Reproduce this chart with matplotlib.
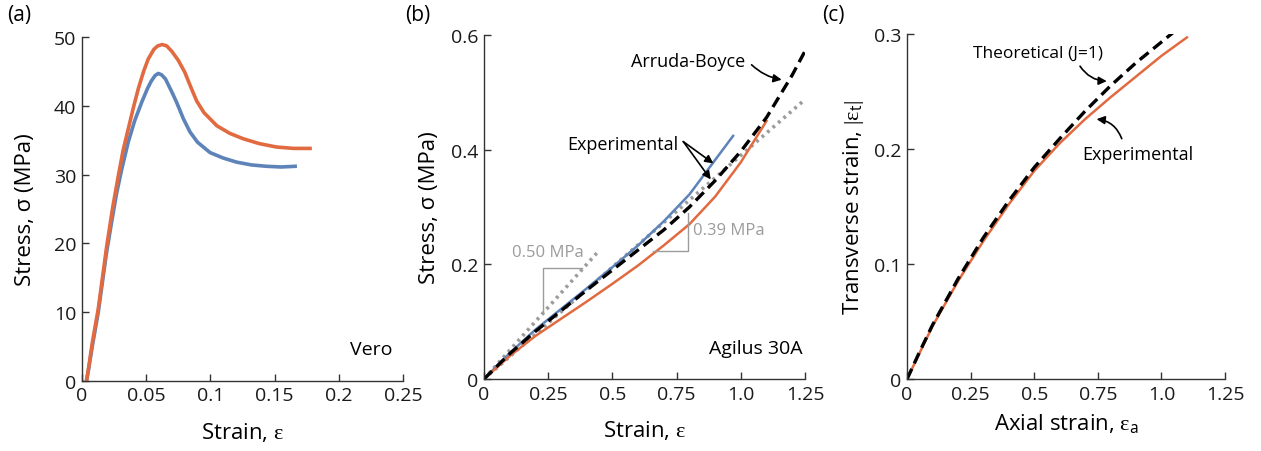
"""Stress-strain curves for Vero and Agilus 30A, and transverse vs axial strain."""

import numpy as np
import matplotlib
matplotlib.use('Agg')
import matplotlib.pyplot as plt

plt.rcParams['font.family'] = ['Open Sans', 'DejaVu Sans']
plt.rcParams['mathtext.fontset'] = 'custom'
plt.rcParams['mathtext.rm'] = 'Liberation Serif'
plt.rcParams['mathtext.it'] = 'Liberation Serif:italic'
plt.rcParams['mathtext.sf'] = 'Open Sans'

ORANGE = '#E26A40'
BLUE = '#5D83B8'
GRAY = '#9C9C9C'
AXCOL = '#333333'

# ---- (a) Vero ----
vero1_strain = [0.0035, 0.005, 0.008, 0.0127, 0.0192, 0.024, 0.0283, 0.032, 0.036, 0.040,
                0.0439, 0.048, 0.0516, 0.056, 0.059, 0.0625, 0.066, 0.070, 0.075, 0.080,
                0.085, 0.0893, 0.095, 0.105, 0.115, 0.1256, 0.138, 0.1516, 0.165, 0.1776]
vero1_stress = [0, 1.7, 5.5, 10.5, 19.5, 25.3, 29.8, 33.5, 36.6, 39.7,
                42.5, 45.0, 46.8, 48.2, 48.7, 48.9, 48.7, 47.9, 46.6, 44.9,
                42.6, 40.7, 39.0, 37.1, 36.0, 35.2, 34.5, 34.0, 33.8, 33.8]
vero2_strain = [0.0035, 0.005, 0.008, 0.0127, 0.019, 0.023, 0.027, 0.031, 0.036, 0.041,
                0.0465, 0.051, 0.054, 0.057, 0.0594, 0.062, 0.065, 0.070, 0.0737, 0.079,
                0.0841, 0.090, 0.0997, 0.110, 0.1205, 0.132, 0.1438, 0.155, 0.166]
vero2_stress = [0, 1.5, 5.0, 10.0, 18.5, 23.0, 27.3, 30.8, 34.7, 37.8,
                40.5, 42.5, 43.6, 44.4, 44.7, 44.5, 43.9, 42.0, 40.5, 38.1,
                36.2, 34.7, 33.2, 32.4, 31.8, 31.4, 31.2, 31.1, 31.2]

# ---- (b) Agilus 30A ----
ag_orange_strain = [0, 0.1, 0.2, 0.3, 0.4, 0.5, 0.6, 0.7, 0.8, 0.9, 1.0, 1.1]
ag_orange_stress = [0, 0.040, 0.075, 0.105, 0.135, 0.166, 0.198, 0.233, 0.270, 0.318, 0.378, 0.450]
ag_blue_strain = [0, 0.1, 0.2, 0.3, 0.4, 0.5, 0.6, 0.7, 0.8, 0.9, 0.97]
ag_blue_stress = [0, 0.045, 0.086, 0.122, 0.158, 0.195, 0.233, 0.275, 0.322, 0.382, 0.424]
ab_strain = [0, 0.1, 0.2, 0.3, 0.4, 0.5, 0.6, 0.7, 0.8, 0.9, 1.0, 1.1, 1.2, 1.25]
ab_stress = [0, 0.044, 0.083, 0.119, 0.155, 0.190, 0.225, 0.260, 0.300, 0.346, 0.397, 0.456, 0.530, 0.572]
fit1_strain = [0, 0.44]
fit1_stress = [0, 0.22]
fit2_strain = [0, 1.25]
fit2_stress = [0, 0.4875]

# ---- (c) Poisson effect ----
ax_strain_exp = [0, 0.05, 0.1, 0.2, 0.3, 0.4, 0.5, 0.6, 0.7, 0.8, 0.9, 1.0, 1.1]
tr_strain_exp = [0, 0.023, 0.046, 0.085, 0.120, 0.152, 0.181, 0.205, 0.226, 0.245, 0.263, 0.281, 0.297]
ax_strain_th = [0, 0.05, 0.1, 0.2, 0.3, 0.4, 0.5, 0.6, 0.7, 0.8, 0.9, 1.0, 1.05]
tr_strain_th = [0, 0.024, 0.047, 0.087, 0.123, 0.155, 0.184, 0.209, 0.233, 0.255, 0.275, 0.293, 0.302]


def style_axes(ax, xticks, xlabels, yticks, ylabels):
    for s in ['top', 'right']:
        ax.spines[s].set_visible(False)
    for s in ['left', 'bottom']:
        ax.spines[s].set_color(AXCOL)
        ax.spines[s].set_linewidth(1.0)
    ax.set_xticks(xticks)
    ax.set_xticklabels(xlabels)
    ax.set_yticks(yticks)
    ax.set_yticklabels(ylabels)
    ax.tick_params(direction='in', length=5, width=1, color=AXCOL,
                   labelsize=14, labelcolor='#1a1a1a', pad=4)


fig = plt.figure(figsize=(12.61, 4.52), dpi=100)

arrow = dict(arrowstyle='-|>', color='black', lw=1.2,
             mutation_scale=12, shrinkA=0, shrinkB=0)
EPS = r'$\mathrm{\varepsilon}$'

#----------------------------------------------------------------------
ax1 = fig.add_axes([0.065, 0.155, 0.2546, 0.761])
ax1.plot(vero2_strain, vero2_stress, color=BLUE, lw=2.6, solid_joinstyle='round')
ax1.plot(vero1_strain, vero1_stress, color=ORANGE, lw=2.6, solid_joinstyle='round')
ax1.set_xlim(0, 0.25)
ax1.set_ylim(0, 50)
style_axes(ax1, [0, 0.05, 0.1, 0.15, 0.2, 0.25], ['0', '0.05', '0.1', '0.15', '0.2', '0.25'],
           [0, 10, 20, 30, 40, 50], ['0', '10', '20', '30', '40', '50'])
ax1.set_xlabel('Strain, ' + EPS, fontsize=16, labelpad=11)
ax1.set_ylabel('Stress, σ (MPa)', fontsize=16, labelpad=13)
ax1.text(0.242, 4.6, 'Vero', fontsize=14, ha='right', va='center')

#----------------------------------------------------------------------
ax2 = fig.add_axes([0.3838, 0.1593, 0.2546, 0.7611])
ax2.plot(fit1_strain, fit1_stress, color=GRAY, lw=2.6, ls=(0, (0.8, 1.2)))
ax2.plot(fit2_strain, fit2_stress, color=GRAY, lw=2.6, ls=(0, (0.8, 1.2)))
ax2.plot(ag_blue_strain, ag_blue_stress, color=BLUE, lw=1.8)
ax2.plot(ag_orange_strain, ag_orange_stress, color=ORANGE, lw=1.8)
ax2.plot(ab_strain, ab_stress, color='black', lw=2.4, ls=(0, (3.4, 1.8)))
# slope triangles
ax2.plot([0.228, 0.228, 0.381], [0.114, 0.194, 0.194], color=GRAY, lw=1.0)
ax2.plot([0.659, 0.796, 0.796], [0.224, 0.224, 0.29], color=GRAY, lw=1.0)
ax2.text(0.247, 0.222, '0.50 MPa', fontsize=12, color=GRAY, ha='center', va='center')
ax2.text(0.954, 0.260, '0.39 MPa', fontsize=12, color=GRAY, ha='center', va='center')
ax2.set_xlim(0, 1.25)
ax2.set_ylim(0, 0.6)
style_axes(ax2, [0, 0.25, 0.5, 0.75, 1.0, 1.25], ['0', '0.25', '0.5', '0.75', '1.0', '1.25'],
           [0, 0.2, 0.4, 0.6], ['0', '0.2', '0.4', '0.6'])
ax2.set_xlabel('Strain, ' + EPS, fontsize=16, labelpad=11)
ax2.set_ylabel('Stress, σ (MPa)', fontsize=16, labelpad=8)
ax2.text(1.242, 0.054, 'Agilus 30A', fontsize=14, ha='right', va='center')
ax2.text(0.794, 0.554, 'Arruda-Boyce', fontsize=13, ha='center', va='center')
ax2.annotate('', xy=(1.159, 0.522), xytext=(1.042, 0.548),
             arrowprops=dict(arrow, connectionstyle='arc3,rad=0.15'))
ax2.text(0.541, 0.410, 'Experimental', fontsize=13, ha='center', va='center')
ax2.annotate('', xy=(0.893, 0.376), xytext=(0.776, 0.414),
             arrowprops=dict(arrow, connectionstyle='arc3,rad=0.0'))
ax2.annotate('', xy=(0.883, 0.348), xytext=(0.776, 0.414),
             arrowprops=dict(arrow, connectionstyle='arc3,rad=0.0'))

#----------------------------------------------------------------------
ax3 = fig.add_axes([0.7193, 0.159, 0.2522, 0.7636])
ax3.plot(ax_strain_exp, tr_strain_exp, color=ORANGE, lw=1.8)
ax3.plot(ax_strain_th, tr_strain_th, color='black', lw=2.4, ls=(0, (3.4, 1.8)))
ax3.set_xlim(0, 1.25)
ax3.set_ylim(0, 0.3)
style_axes(ax3, [0, 0.25, 0.5, 0.75, 1.0, 1.25], ['0', '0.25', '0.5', '0.75', '1.0', '1.25'],
           [0, 0.1, 0.2, 0.3], ['0', '0.1', '0.2', '0.3'])
ax3.set_xlabel(r'Axial strain, $\mathrm{\varepsilon}_{\mathsf{a}}$', fontsize=16, labelpad=6)
ax3.set_ylabel(r'Transverse strain, $|\mathrm{\varepsilon}_{\mathsf{t}}|$',
               fontsize=16, labelpad=6)
ax3.text(0.515, 0.284, 'Theoretical (J=1)', fontsize=12.5, ha='center', va='center')
ax3.annotate('', xy=(0.785, 0.259), xytext=(0.68, 0.272),
             arrowprops=dict(arrow, connectionstyle='arc3,rad=0.25'))
ax3.text(0.908, 0.196, 'Experimental', fontsize=13, ha='center', va='center')
ax3.annotate('', xy=(0.745, 0.226), xytext=(0.844, 0.209),
             arrowprops=dict(arrow, connectionstyle='arc3,rad=0.3'))

# panel letters
fig.text(0.006, 0.965, '(a)', fontsize=15, va='center')
fig.text(0.321, 0.965, '(b)', fontsize=15, va='center')
fig.text(0.652, 0.965, '(c)', fontsize=15, va='center')

fig.savefig('out.png', dpi=100)
